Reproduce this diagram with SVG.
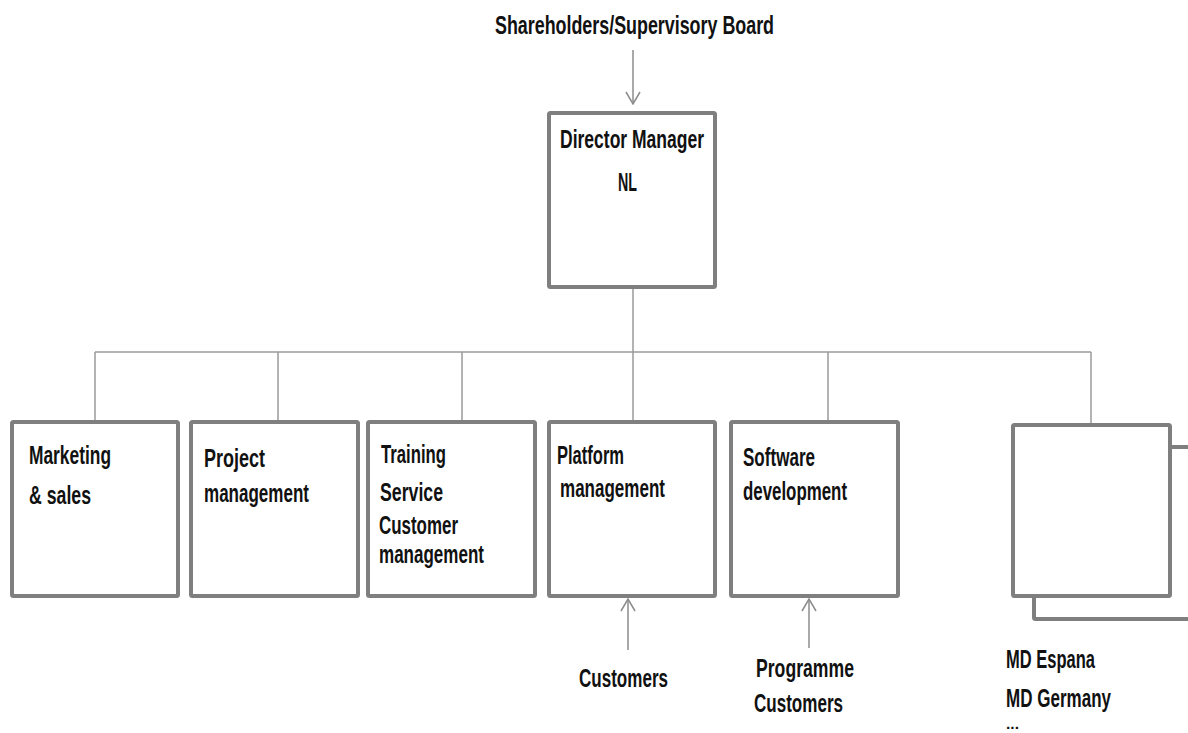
<svg xmlns="http://www.w3.org/2000/svg" width="1188" height="733" viewBox="0 0 1188 733">
<style>
  .box { fill: #ffffff; stroke: #7f7f7f; stroke-width: 4; }
  .conn { fill: none; stroke: #9a9a9a; stroke-width: 1.5; }
  .arrow { fill: none; stroke: #8c8c8c; stroke-width: 1.5; }
  text { font-family: "Liberation Sans", Arial, sans-serif; font-weight: bold; font-size: 26px; fill: #111111; }
  .dots { font-size: 14px; }
</style>
<defs>
  <marker id="openArrow" markerUnits="userSpaceOnUse" markerWidth="14" markerHeight="16" viewBox="0 0 14 16" refX="13" refY="8" orient="auto">
    <path d="M1,1 L13,8 L1,15" fill="none" stroke="#8c8c8c" stroke-width="1.5"/>
  </marker>
</defs>
<rect width="1188" height="733" fill="#ffffff"/>

<g id="connectors">
  <line class="arrow" x1="633" y1="50" x2="633" y2="104" marker-end="url(#openArrow)"/>
  <line class="conn" x1="633" y1="289" x2="633" y2="352"/>
  <line class="conn" x1="95" y1="352" x2="1091" y2="352"/>
  <line class="conn" x1="95" y1="352" x2="95" y2="420"/>
  <line class="conn" x1="278" y1="352" x2="278" y2="420"/>
  <line class="conn" x1="462" y1="352" x2="462" y2="420"/>
  <line class="conn" x1="633" y1="352" x2="633" y2="420"/>
  <line class="conn" x1="828" y1="352" x2="828" y2="420"/>
  <line class="conn" x1="1091" y1="352" x2="1091" y2="423"/>
  <line class="arrow" x1="628" y1="650" x2="628" y2="599" marker-end="url(#openArrow)"/>
  <line class="arrow" x1="809" y1="648" x2="809" y2="599" marker-end="url(#openArrow)"/>
</g>

<g id="board">
  <text x="495" y="34" textLength="279" lengthAdjust="spacingAndGlyphs">Shareholders/Supervisory Board</text>
</g>

<g id="director">
  <rect class="box" x="549" y="113" width="166" height="174" rx="1.5"/>
  <text x="560" y="148" textLength="144" lengthAdjust="spacingAndGlyphs">Director Manager</text>
  <text x="618" y="191" textLength="19" lengthAdjust="spacingAndGlyphs">NL</text>
</g>

<g id="marketing">
  <rect class="box" x="12" y="422" width="166" height="174" rx="1.5"/>
  <text x="29" y="464" textLength="82" lengthAdjust="spacingAndGlyphs">Marketing</text>
  <text x="29" y="504" textLength="62" lengthAdjust="spacingAndGlyphs">&amp; sales</text>
</g>

<g id="project">
  <rect class="box" x="191" y="422" width="167" height="174" rx="1.5"/>
  <text x="204" y="467" textLength="61" lengthAdjust="spacingAndGlyphs">Project</text>
  <text x="204" y="502" textLength="105" lengthAdjust="spacingAndGlyphs">management</text>
</g>

<g id="training">
  <rect class="box" x="368" y="422" width="167" height="174" rx="1.5"/>
  <text x="381" y="463" textLength="65" lengthAdjust="spacingAndGlyphs">Training</text>
  <text x="380" y="501" textLength="63" lengthAdjust="spacingAndGlyphs">Service</text>
  <text x="379" y="534" textLength="79" lengthAdjust="spacingAndGlyphs">Customer</text>
  <text x="379" y="563" textLength="105" lengthAdjust="spacingAndGlyphs">management</text>
</g>

<g id="platform">
  <rect class="box" x="549" y="422" width="166" height="174" rx="1.5"/>
  <text x="557" y="464" textLength="67" lengthAdjust="spacingAndGlyphs">Platform</text>
  <text x="560" y="497" textLength="105" lengthAdjust="spacingAndGlyphs">management</text>
</g>

<g id="software">
  <rect class="box" x="731" y="422" width="167" height="174" rx="1.5"/>
  <text x="743" y="466" textLength="72" lengthAdjust="spacingAndGlyphs">Software</text>
  <text x="743" y="500" textLength="104" lengthAdjust="spacingAndGlyphs">development</text>
</g>

<g id="md-countries">
  <rect class="box" x="1034" y="447" width="160" height="172" rx="1.5"/>
  <rect class="box" x="1013" y="425" width="157" height="171" rx="1.5"/>
  <text x="1006" y="668" textLength="89" lengthAdjust="spacingAndGlyphs">MD Espana</text>
  <text x="1006" y="707" textLength="105" lengthAdjust="spacingAndGlyphs">MD Germany</text>
  <text class="dots" x="1006" y="729" textLength="13" lengthAdjust="spacingAndGlyphs">...</text>
</g>

<g id="customers">
  <text x="579" y="687" textLength="89" lengthAdjust="spacingAndGlyphs">Customers</text>
</g>

<g id="programme-customers">
  <text x="756" y="677" textLength="98" lengthAdjust="spacingAndGlyphs">Programme</text>
  <text x="754" y="712" textLength="89" lengthAdjust="spacingAndGlyphs">Customers</text>
</g>
</svg>
